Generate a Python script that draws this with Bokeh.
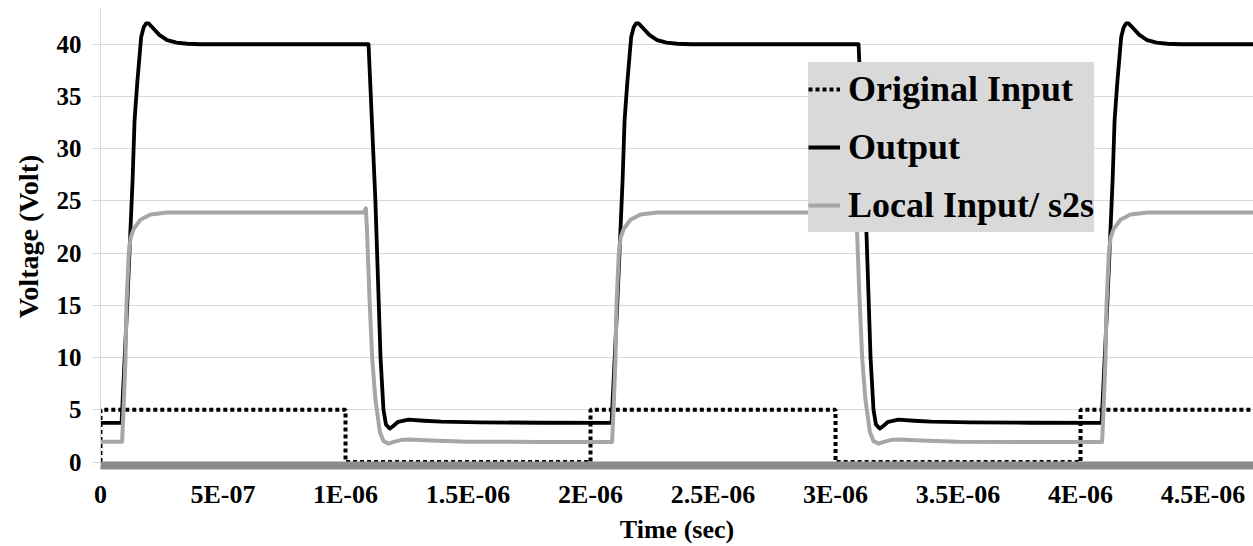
import numpy as np
from bokeh.plotting import figure
from bokeh.models import Range1d, FixedTicker, Legend, LegendItem, CustomJSTickFormatter
from bokeh.embed import file_html
from bokeh.resources import INLINE

# ---------------- data (time in microseconds, voltage in volts) ----------------
input_time_us = [0.0, 0.0, 1.0, 1.0, 2.0, 2.0, 3.0, 3.0, 4.0, 4.0, 4.71]
input_volt = [0, 5, 5, 0, 0, 5, 5, 0, 0, 5, 5]

output_time_us = [
    0.000, 0.086, 0.109, 0.131, 0.139, 0.150, 0.166, 0.176, 0.186, 0.196, 0.212, 0.240, 0.272, 0.310, 0.354, 0.410,
    1.094, 1.122, 1.143, 1.155, 1.165, 1.180, 1.195, 1.215, 1.257, 1.320, 1.390, 1.550, 1.800,
    2.086, 2.109, 2.131, 2.139, 2.150, 2.166, 2.176, 2.186, 2.196, 2.212, 2.240, 2.272, 2.310, 2.354, 2.410,
    3.094, 3.122, 3.143, 3.155, 3.165, 3.180, 3.195, 3.215, 3.257, 3.320, 3.390, 3.550, 3.800,
    4.086, 4.109, 4.131, 4.139, 4.150, 4.166, 4.176, 4.186, 4.196, 4.212, 4.240, 4.272, 4.310, 4.354, 4.410,
    4.710,
]
output_volt = [
    3.75, 3.75, 15.0, 27.0, 32.7, 36.3, 40.7, 41.6, 42.0, 42.0, 41.6, 40.9, 40.4, 40.15, 40.05, 40.0,
    40.0, 25.0, 10.0, 5.0, 3.6, 3.2, 3.45, 3.85, 4.05, 3.95, 3.86, 3.80, 3.76,
    3.75, 15.0, 27.0, 32.7, 36.3, 40.7, 41.6, 42.0, 42.0, 41.6, 40.9, 40.4, 40.15, 40.05, 40.0,
    40.0, 25.0, 10.0, 5.0, 3.6, 3.2, 3.45, 3.85, 4.05, 3.95, 3.86, 3.80, 3.76,
    3.75, 15.0, 27.0, 32.7, 36.3, 40.7, 41.6, 42.0, 42.0, 41.6, 40.9, 40.4, 40.15, 40.05, 40.0,
    40.0,
]

local_time_us = [
    0.000, 0.088, 0.094, 0.102, 0.106, 0.1155, 0.123, 0.135, 0.163, 0.204, 0.273,
    1.075, 1.083, 1.088, 1.098, 1.109, 1.122, 1.140, 1.155, 1.176, 1.200, 1.225, 1.260, 1.350, 1.500, 1.800,
    2.088, 2.094, 2.102, 2.106, 2.1155, 2.123, 2.135, 2.163, 2.204, 2.273,
    3.075, 3.083, 3.088, 3.098, 3.109, 3.122, 3.140, 3.155, 3.176, 3.200, 3.225, 3.260, 3.350, 3.500, 3.800,
    4.088, 4.094, 4.102, 4.106, 4.1155, 4.123, 4.135, 4.163, 4.204, 4.273,
    4.710,
]
local_volt = [
    1.95, 1.95, 5.0, 10.0, 15.0, 20.0, 21.5, 22.3, 23.2, 23.7, 23.9,
    23.9, 24.3, 22.0, 15.6, 9.9, 6.0, 2.9, 2.0, 1.76, 1.95, 2.1, 2.15, 2.05, 1.95, 1.92,
    1.92, 5.0, 10.0, 15.0, 20.0, 21.5, 22.3, 23.2, 23.7, 23.9,
    23.9, 24.3, 22.0, 15.6, 9.9, 6.0, 2.9, 2.0, 1.76, 1.95, 2.1, 2.15, 2.05, 1.95, 1.92,
    1.92, 5.0, 10.0, 15.0, 20.0, 21.5, 22.3, 23.2, 23.7, 23.9,
    23.9,
]

x_ticks = [0.0, 5e-7, 1e-6, 1.5e-6, 2e-6, 2.5e-6, 3e-6, 3.5e-6, 4e-6, 4.5e-6]
x_tick_labels = ["0", "5E-07", "1E-06", "1.5E-06", "2E-06", "2.5E-06", "3E-06", "3.5E-06", "4E-06", "4.5E-06"]
y_ticks = [0, 5, 10, 15, 20, 25, 30, 35, 40]

series_names = ["Original Input", "Output", "Local Input/ s2s"]

# ---------------- figure ----------------
US = 1e-6
FONT = "Liberation Serif"

p = figure(
    width=1253, height=546,
    x_range=Range1d(0, 4.706e-6), y_range=Range1d(-0.334, 43.52),
    output_backend="svg", toolbar_location=None,
    min_border_left=100, min_border_right=0, min_border_top=7, min_border_bottom=79,
)
p.outline_line_color = None
p.background_fill_color = "white"

r_in = p.line(np.array(input_time_us) * US, input_volt, line_color="black",
              line_width=4, line_dash="4 3")
r_out = p.line(np.array(output_time_us) * US, output_volt, line_color="black",
               line_width=3.8, line_join="round")
r_loc = p.line(np.array(local_time_us) * US, local_volt, line_color="#a6a6a6",
               line_width=4, line_join="round")

# axes
p.xgrid.grid_line_color = None
p.ygrid.grid_line_color = "#d9d9d9"
p.ygrid.grid_line_width = 1

p.yaxis.ticker = FixedTicker(ticks=y_ticks)
p.yaxis.axis_line_color = "#d9d9d9"
p.yaxis.major_tick_line_color = "#d9d9d9"
p.yaxis.major_tick_out = 8
p.yaxis.major_tick_in = 0
p.yaxis.minor_tick_line_color = None
p.yaxis.major_label_text_font = FONT
p.yaxis.major_label_text_font_style = "bold"
p.yaxis.major_label_text_font_size = "25px"
p.yaxis.major_label_text_color = "black"
p.yaxis.major_label_standoff = 11
p.yaxis.axis_label = "Voltage (Volt)"
p.yaxis.axis_label_text_font = FONT
p.yaxis.axis_label_text_font_style = "bold"
p.yaxis.axis_label_text_font_size = "28px"
p.yaxis.axis_label_text_color = "black"
p.yaxis.axis_label_standoff = 10

p.xaxis.ticker = FixedTicker(ticks=x_ticks)
p.xaxis.formatter = CustomJSTickFormatter(args=dict(tvals=x_ticks, tlabs=x_tick_labels), code="""
let best = 0; let bd = Infinity;
for (let i = 0; i < tvals.length; i++) {
  const d = Math.abs(tvals[i] - tick);
  if (d < bd) { bd = d; best = i; }
}
return tlabs[best];
""")
p.xaxis.axis_line_color = "#8c8c8c"
p.xaxis.axis_line_width = 8
p.xaxis.major_tick_line_color = None
p.xaxis.minor_tick_line_color = None
p.xaxis.major_tick_out = 0
p.xaxis.major_tick_in = 0
p.xaxis.major_label_text_font = FONT
p.xaxis.major_label_text_font_style = "bold"
p.xaxis.major_label_text_font_size = "26px"
p.xaxis.major_label_text_color = "black"
p.xaxis.major_label_standoff = 14
p.xaxis.axis_label = "Time (sec)"
p.xaxis.axis_label_text_font = FONT
p.xaxis.axis_label_text_font_style = "bold"
p.xaxis.axis_label_text_font_size = "26px"
p.xaxis.axis_label_text_color = "black"
p.xaxis.axis_label_standoff = 3

legend = Legend(
    items=[LegendItem(label=series_names[0], renderers=[r_in]),
           LegendItem(label=series_names[1], renderers=[r_out]),
           LegendItem(label=series_names[2], renderers=[r_loc])],
    location=(708, 233),
    background_fill_color="#d9d9d9", background_fill_alpha=1.0,
    border_line_color=None,
    label_text_font=FONT, label_text_font_style="bold", label_text_font_size="36px",
    label_text_color="black",
    glyph_width=32, glyph_height=54, label_height=54, label_standoff=8,
    spacing=4, padding=16, margin=0,
)
p.add_layout(legend)

open("out.html", "w").write(file_html(p, INLINE))
